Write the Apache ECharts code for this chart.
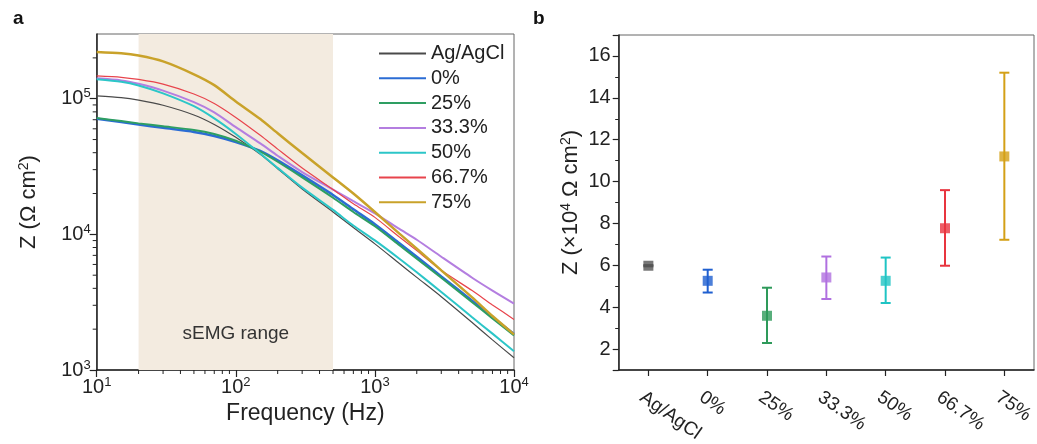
<!DOCTYPE html>
<html>
<head>
<meta charset="utf-8">
<script src="https://cdn.jsdelivr.net/npm/echarts@6/dist/echarts.min.js"></script>
<style>html,body{margin:0;padding:0;background:#fff;}#c{width:1037px;height:444px;}</style>
</head>
<body>
<div id="c"></div>
<script>
// ---------- Panel a data ----------
const freq = [10, 15, 20, 30, 50, 70, 100, 150, 200, 300, 500, 700, 1000, 1500, 2000, 3000, 5000, 7000, 10000];
const zAgAgCl = [1.05e5, 1.019e5, 9.77e4, 8.95e4, 7.59e4, 6.46e4, 5.19e4, 3.89e4, 3.05e4, 2.16e4, 1.462e4, 1.122e4, 8.51e3, 6.1e3, 4.82e3, 3.47e3, 2.24e3, 1.667e3, 1.23e3];
const z0 = [7.11e4, 6.73e4, 6.46e4, 6.1e4, 5.69e4, 5.31e4, 4.79e4, 4.12e4, 3.51e4, 2.72e4, 1.95e4, 1.531e4, 1.189e4, 8.61e3, 6.84e3, 4.9e3, 3.24e3, 2.45e3, 1.84e3];
const z25 = [7.21e4, 6.84e4, 6.58e4, 6.27e4, 5.89e4, 5.5e4, 4.9e4, 4.07e4, 3.43e4, 2.63e4, 1.862e4, 1.462e4, 1.148e4, 8.32e3, 6.61e3, 4.79e3, 3.16e3, 2.4e3, 1.8e3];
const z33 = [1.413e5, 1.365e5, 1.288e5, 1.148e5, 9.44e4, 7.94e4, 6.17e4, 4.68e4, 3.8e4, 2.88e4, 2.14e4, 1.758e4, 1.429e4, 1.096e4, 9.12e3, 6.84e3, 4.79e3, 3.85e3, 3.09e3];
const z50 = [1.393e5, 1.334e5, 1.253e5, 1.096e5, 8.81e4, 7.16e4, 5.5e4, 3.94e4, 3.09e4, 2.21e4, 1.514e4, 1.161e4, 9.02e3, 6.61e3, 5.25e3, 3.76e3, 2.45e3, 1.854e3, 1.377e3];
const z66 = [1.472e5, 1.439e5, 1.387e5, 1.282e5, 1.084e5, 9.23e4, 7.28e4, 5.37e4, 4.25e4, 3.08e4, 2.14e4, 1.679e4, 1.334e4, 9.55e3, 7.59e3, 5.43e3, 3.85e3, 3.02e3, 2.36e3];
const z75 = [2.213e5, 2.163e5, 2.08e5, 1.884e5, 1.514e5, 1.259e5, 9.55e4, 7.08e4, 5.56e4, 3.98e4, 2.63e4, 2.0e4, 1.462e4, 1.012e4, 7.85e3, 5.43e3, 3.43e3, 2.5e3, 1.83e3];
const seriesNames = ['Ag/AgCl', '0%', '25%', '33.3%', '50%', '66.7%', '75%'];
const semgRange = [20, 500];
const xMinorTicks = [20,30,40,50,60,70,80,90,200,300,400,500,600,700,800,900,2000,3000,4000,5000,6000,7000,8000,9000];
const yMinorTicks = [2000,3000,4000,5000,6000,7000,8000,9000,20000,30000,40000,50000,60000,70000,80000,90000,200000];

// ---------- Panel b data ----------
const categoriesB = ['Ag/AgCl', '0%', '25%', '33.3%', '50%', '66.7%', '75%'];
const meanB = [5.98, 5.26, 3.59, 5.42, 5.26, 7.77, 11.2];
const lowB  = [5.95, 4.70, 2.29, 4.39, 4.20, 5.98, 7.22];
const highB = [6.01, 5.79, 4.93, 6.42, 6.37, 9.59, 15.2];

const lineColors = ['#4a4a4a', '#2b6cd4', '#2e9e62', '#b47ee0', '#2cc6c8', '#e8444c', '#c9a22a'];
const lineWidths = [1.2, 2.5, 2, 2, 2, 1.2, 2.5];
const markColors = ['#555555', '#1f5fd0', '#2e9a5a', '#b070e0', '#1fc4c4', '#e8353f', '#d4a017'];

const zSets = [zAgAgCl, z0, z25, z33, z50, z66, z75];

const FONT = 'Liberation Sans, Arial, sans-serif';
const supRich = {
  sup: { fontSize: 13, padding: [0, 0, 10, 0], fontFamily: FONT, color: '#222' }
};
function powLabel(v) {
  const e = Math.round(Math.log10(v));
  if (Math.abs(Math.pow(10, e) - v) / v > 1e-6) return '';
  return '10{sup|' + e + '}';
}

const chart = echarts.init(document.getElementById('c'), null, { renderer: 'canvas' });

const lineSeries = seriesNames.map((n, i) => ({
  name: n,
  type: 'line',
  xAxisIndex: 0, yAxisIndex: 0,
  data: freq.map((f, j) => [f, zSets[i][j]]),
  showSymbol: false,
  symbol: 'none',
  smooth: 0.25,
  z: 3,
  lineStyle: { color: lineColors[i], width: lineWidths[i] },
  itemStyle: { color: lineColors[i] }
}));

const option = {
  animation: false,
  backgroundColor: '#fff',
  title: [
    { text: 'a', left: 8, top: 4, textStyle: { fontSize: 19, fontWeight: 'bold', color: '#111', fontFamily: FONT } },
    { text: 'b', left: 528, top: 4, textStyle: { fontSize: 19, fontWeight: 'bold', color: '#111', fontFamily: FONT } }
  ],
  legend: {
    data: seriesNames,
    orient: 'vertical',
    left: 378, top: 43.5, padding: 0,
    itemWidth: 47, itemHeight: 14, itemGap: 4.8,
    itemStyle: { opacity: 0 },
    textStyle: { fontSize: 20, color: '#222', fontFamily: FONT },
    selectedMode: false
  },
  grid: [
    { left: 96.7, right: 523, top: 34, bottom: 74, show: true, borderColor: '#666', borderWidth: 1, backgroundColor: 'transparent', outerBoundsMode: 'none', containLabel: false },
    { left: 618.7, right: 3, top: 35, bottom: 74, show: true, borderColor: '#666', borderWidth: 1, backgroundColor: 'transparent', outerBoundsMode: 'none', containLabel: false }
  ],
  xAxis: [
    {
      gridIndex: 0, type: 'log', logBase: 10, min: 10, max: 10000,
      name: 'Frequency (Hz)', nameLocation: 'middle', nameGap: 26,
      nameTextStyle: { fontSize: 23, color: '#222', fontFamily: FONT },
      axisLine: { show: true, lineStyle: { color: '#222', width: 1.5 } },
      axisTick: { show: true, inside: false, length: 7, lineStyle: { color: '#222', width: 1.2 } },
      splitLine: { show: false },
      axisLabel: { fontSize: 20, color: '#222', fontFamily: FONT, margin: 6, formatter: powLabel, rich: supRich }
    },
    {
      gridIndex: 1, type: 'category', data: categoriesB, boundaryGap: true,
      axisLine: { show: true, lineStyle: { color: '#222', width: 1.5 } },
      axisTick: { show: true, alignWithLabel: true, inside: false, length: 6, lineStyle: { color: '#222', width: 1.2 } },
      splitLine: { show: false },
      axisLabel: { fontSize: 19, color: '#222', fontFamily: FONT, rotate: -35, margin: 30, interval: 0, padding: [0, 0, 0, -8] }
    }
  ],
  yAxis: [
    {
      gridIndex: 0, type: 'log', logBase: 10, min: 1000, max: 300000,
      name: 'Z (Ω cm{sup|2})', nameLocation: 'middle', nameGap: 56, nameRotate: 90,
      nameTextStyle: { fontSize: 22, color: '#222', fontFamily: FONT, rich: { sup: { fontSize: 14, padding: [0,0,10,0], fontFamily: FONT, color: '#222' } } },
      axisLine: { show: true, lineStyle: { color: '#222', width: 1.5 } },
      axisTick: { show: true, inside: false, length: 7, lineStyle: { color: '#222', width: 1.2 } },
      splitLine: { show: false },
      axisLabel: { fontSize: 20, color: '#222', fontFamily: FONT, margin: 6, formatter: powLabel, rich: supRich, showMaxLabel: false }
    },
    {
      gridIndex: 1, type: 'value', min: 1, max: 17, splitNumber: 8,
      name: 'Z (×10{sup|4} Ω cm{sup|2})', nameLocation: 'middle', nameGap: 36, nameRotate: 90,
      nameTextStyle: { fontSize: 22, color: '#222', fontFamily: FONT, rich: { sup: { fontSize: 14, padding: [0,0,10,0], fontFamily: FONT, color: '#222' } } },
      axisLine: { show: true, lineStyle: { color: '#222', width: 1.5 } },
      axisTick: { show: true, inside: false, length: 6, lineStyle: { color: '#222', width: 1.2 } },
      minorTick: { show: true, splitNumber: 2, length: 3.5, lineStyle: { color: '#222', width: 1 } },
      splitLine: { show: false },
      axisLabel: { fontSize: 20, color: '#222', fontFamily: FONT, margin: 8, showMinLabel: false, showMaxLabel: false }
    }
  ],
  series: [
    {
      name: 'sEMG', type: 'line', xAxisIndex: 0, yAxisIndex: 0, data: [], z: 1,
      markArea: {
        silent: true,
        itemStyle: { color: '#f3ebe0' },
        label: { show: true, position: 'insideBottom', distance: 27, fontSize: 19, color: '#333', fontFamily: FONT },
        data: [[{ xAxis: semgRange[0], name: 'sEMG range' }, { xAxis: semgRange[1] }]]
      }
    },
    {
      name: 'xMinor', type: 'custom', xAxisIndex: 0, yAxisIndex: 0, silent: true, clip: false, z: 5,
      data: xMinorTicks.map(v => [v]),
      renderItem: function (params, api) {
        const p = api.coord([api.value(0), 1000]);
        return { type: 'line', shape: { x1: p[0], y1: p[1], x2: p[0], y2: p[1] + 4 }, style: { stroke: '#222', lineWidth: 1 } };
      }
    },
    {
      name: 'yMinor', type: 'custom', xAxisIndex: 0, yAxisIndex: 0, silent: true, clip: false, z: 5,
      data: yMinorTicks.map(v => [10, v]),
      encode: { x: 0, y: 1 },
      renderItem: function (params, api) {
        const p = api.coord([10, api.value(1)]);
        return { type: 'line', shape: { x1: p[0] - 4, y1: p[1], x2: p[0], y2: p[1] }, style: { stroke: '#222', lineWidth: 1 } };
      }
    }
  ].concat(lineSeries).concat([
    {
      name: 'errB', type: 'custom', xAxisIndex: 1, yAxisIndex: 1, z: 4,
      data: categoriesB.map((c, i) => [i, lowB[i], highB[i]]),
      renderItem: function (params, api) {
        const i = api.value(0);
        const top = api.coord([i, api.value(2)]);
        const bot = api.coord([i, api.value(1)]);
        const c = markColors[i];
        const hw = 5;
        return {
          type: 'group',
          children: [
            { type: 'line', shape: { x1: top[0], y1: top[1], x2: bot[0], y2: bot[1] }, style: { stroke: c, lineWidth: 2 } },
            { type: 'line', shape: { x1: top[0] - hw, y1: top[1], x2: top[0] + hw, y2: top[1] }, style: { stroke: c, lineWidth: 2 } },
            { type: 'line', shape: { x1: bot[0] - hw, y1: bot[1], x2: bot[0] + hw, y2: bot[1] }, style: { stroke: c, lineWidth: 2 } }
          ]
        };
      }
    },
    {
      name: 'meanB', type: 'scatter', xAxisIndex: 1, yAxisIndex: 1, z: 5,
      symbol: 'rect', symbolSize: 10,
      data: meanB.map((v, i) => ({ value: [i, v], itemStyle: { color: markColors[i] } }))
    }
  ])
};
chart.setOption(option);
</script>
</body>
</html>
